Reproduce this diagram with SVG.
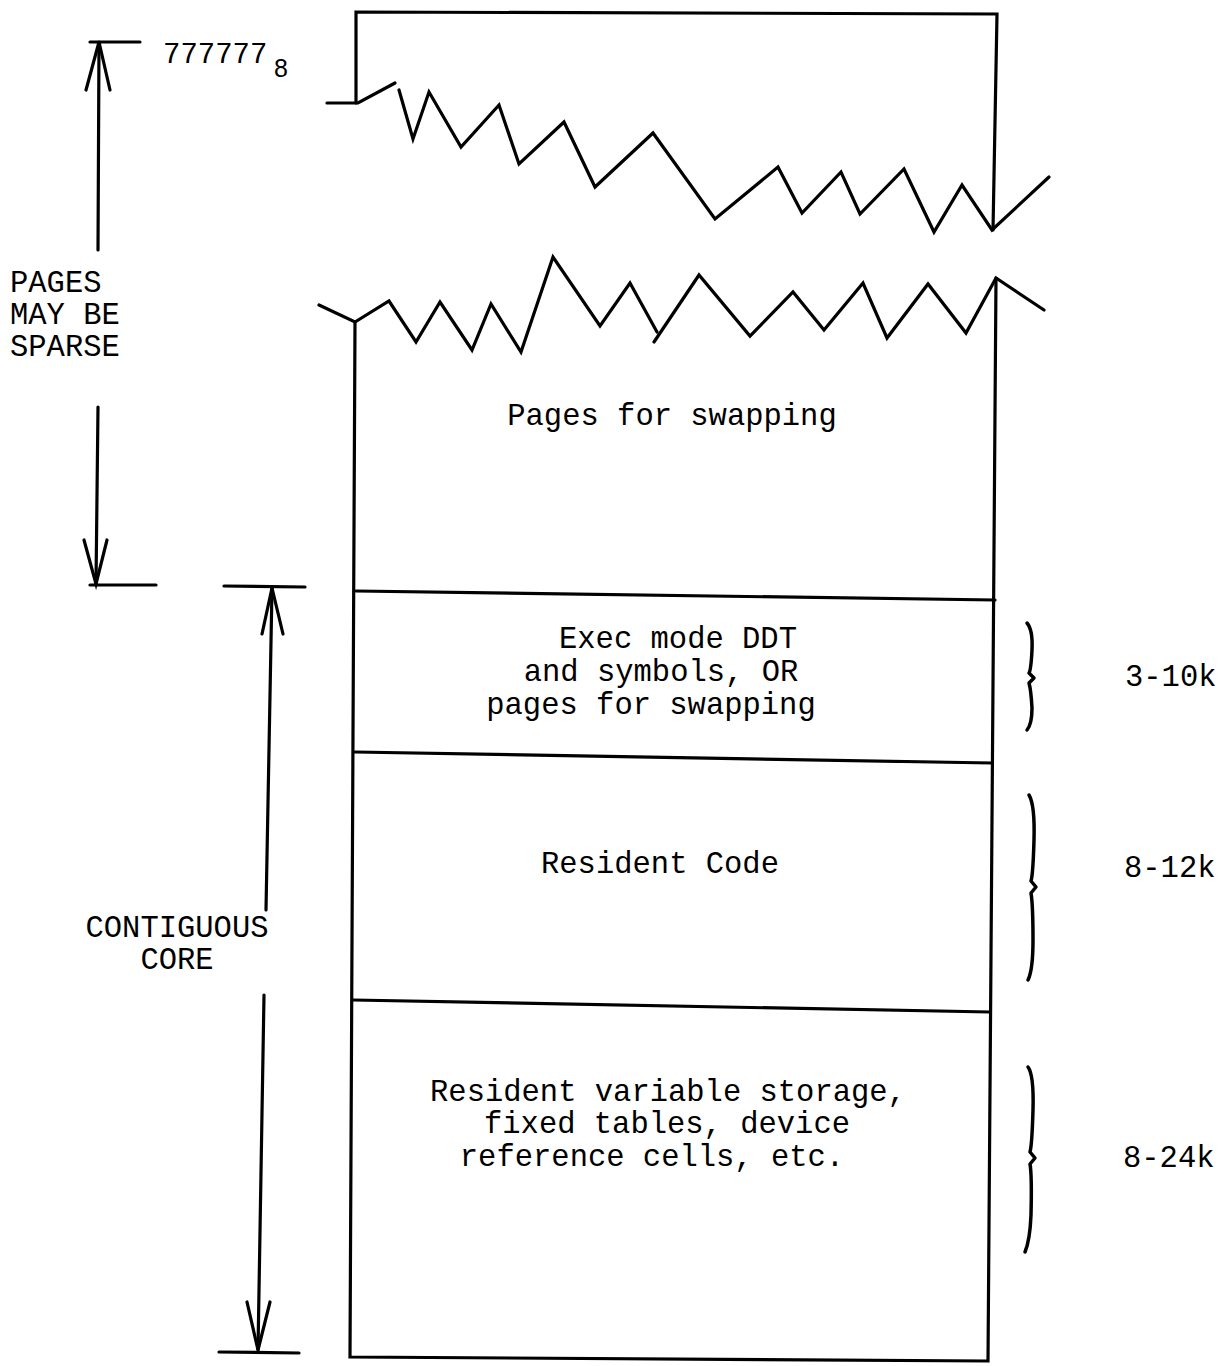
<svg xmlns="http://www.w3.org/2000/svg" width="1225" height="1366" viewBox="0 0 1225 1366">
<style>
.ln{stroke:#000;stroke-width:3.2;fill:none;stroke-linecap:round;stroke-linejoin:miter}
.br{stroke:#000;stroke-width:3.5;fill:none;stroke-linecap:round;stroke-linejoin:round}
.t{font-family:"Liberation Mono","DejaVu Sans Mono",monospace;font-size:30.5px;fill:#000}
.m{text-anchor:middle}
</style>
<rect width="1225" height="1366" fill="#fff"/>
<g id="memory-box">
  <polyline class="ln" points="356,103 356,12 997,14 993,230"/>
  <polyline class="ln" points="327,103 358,103 395,83"/>
  <polyline class="ln" points="399,90 413,139 429,92 461,147 499,105 519,164 564,122 595,187 653,133 715,219 778,167 802,213 841,172 860,214 904,169 934,232 962,185 992,230 1049,177"/>
  <polyline class="ln" points="319,305 355,322 389,301 416,342 440,302 472,350 491,304 521,352 553,257 600,326 630,283 657,332"/>
  <polyline class="ln" points="654,342 699,275 750,336 793,292 824,330 863,283 887,338 928,284 966,333 996,278 1044,310"/>
  <polyline class="ln" points="355,322 350,1357 988,1361 996,278"/>
</g>
<g id="region-swap">
  <text class="t m" x="672" y="425">Pages for swapping</text>
</g>
<g id="region-ddt">
  <line class="ln" x1="356" y1="591" x2="995" y2="600"/>
  <text class="t m" x="678" y="648">Exec mode DDT</text>
  <text class="t m" x="661" y="681">and symbols, OR</text>
  <text class="t m" x="651" y="714">pages for swapping</text>
</g>
<g id="region-code">
  <line class="ln" x1="355" y1="752" x2="992" y2="763"/>
  <text class="t m" x="660" y="873">Resident Code</text>
</g>
<g id="region-vars">
  <line class="ln" x1="353" y1="1000" x2="990" y2="1012"/>
  <text class="t m" x="668" y="1101">Resident variable storage,</text>
  <text class="t m" x="667" y="1133">fixed tables, device</text>
  <text class="t m" x="652" y="1166">reference cells, etc.</text>
</g>
<g id="size-labels">
  <path class="br" d="M1027,623 Q1033,630 1032,650 Q1031,670 1029,673 L1034,678 L1029,683 Q1031,690 1032,708 Q1032,724 1027,730"/>
  <text class="t" x="1125" y="686">3-10k</text>
  <path class="br" d="M1029,795 Q1035,805 1034,840 Q1033,875 1031,881 L1036,887 L1031,893 Q1033,905 1033,940 Q1033,970 1028,980"/>
  <text class="t" x="1124" y="877">8-12k</text>
  <path class="br" d="M1028,1067 Q1034,1075 1033,1110 Q1032,1145 1030,1152 L1035,1158 L1030,1164 Q1032,1175 1031,1215 Q1030,1240 1025,1252"/>
  <text class="t" x="1123" y="1167">8-24k</text>
</g>
<g id="left-labels">
  <text x="163" y="63" style="font-family:'Liberation Mono',monospace;font-size:29px">777777</text>
  <text x="274" y="77" style="font-family:'Liberation Sans',sans-serif;font-size:25px">8</text>
  <text class="t" x="10" y="292">PAGES</text>
  <text class="t" x="10" y="324">MAY BE</text>
  <text class="t" x="10" y="356">SPARSE</text>
  <text class="t m" x="177" y="937">CONTIGUOUS</text>
  <text class="t m" x="177" y="969">CORE</text>
</g>
<g id="connectors">
  <line class="ln" x1="90" y1="42" x2="140" y2="42"/>
  <line class="ln" x1="99" y1="42" x2="98" y2="250"/>
  <polyline class="ln" points="86,90 99,42 110,90"/>
  <line class="ln" x1="98" y1="407" x2="96" y2="584"/>
  <polyline class="ln" points="84,540 96,584 107,540"/>
  <line class="ln" x1="90" y1="585" x2="156" y2="585"/>
  <line class="ln" x1="224" y1="586" x2="305" y2="587"/>
  <line class="ln" x1="272" y1="588" x2="266" y2="910"/>
  <polyline class="ln" points="262,634 272,588 283,634"/>
  <line class="ln" x1="264" y1="995" x2="258" y2="1350"/>
  <polyline class="ln" points="247,1302 258,1350 270,1302"/>
  <line class="ln" x1="219" y1="1352" x2="299" y2="1353"/>
</g>
</svg>
